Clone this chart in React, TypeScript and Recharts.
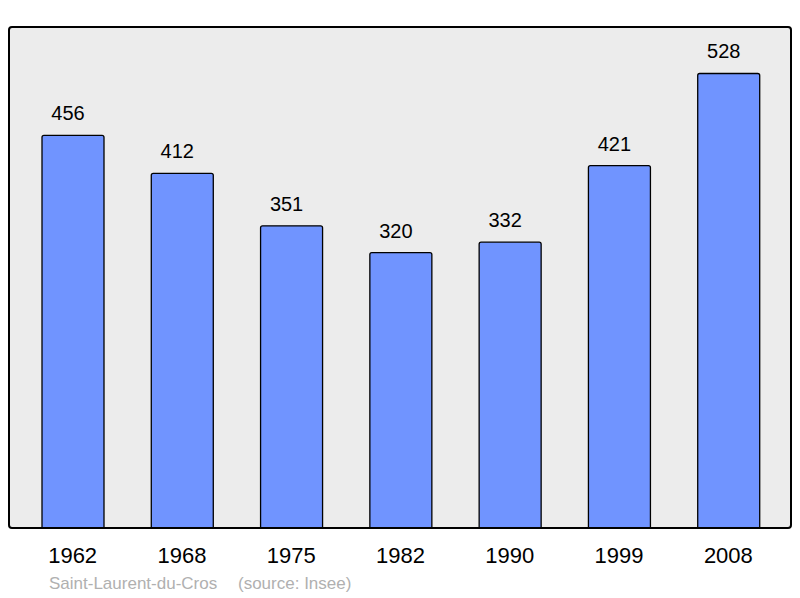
import React from 'react';
import { BarChart, Bar, XAxis, YAxis, LabelList } from 'recharts';

const years = ['1962', '1968', '1975', '1982', '1990', '1999', '2008'];
const population = [456, 412, 351, 320, 332, 421, 528];
const townName = 'Saint-Laurent-du-Cros';
const sourceText = '(source: Insee)';

const data = years.map((y, i) => ({ year: y, pop: population[i] }));

const FONT = '"Liberation Sans", Arial, sans-serif';

const ValueLabel = (props: any) => {
  const { x, y, width, value } = props;
  return (
    <text x={Number(x) + Number(width) / 2 - 5} y={Number(y) - 15} textAnchor="middle" fontSize={20} fontFamily={FONT} fill="#000">
      {value}
    </text>
  );
};

export default function App() {
  return (
    <div style={{ position: 'absolute', left: 0, top: 0, width: 800, height: 598, background: '#fff', fontFamily: FONT }}>
      <div
        style={{
          position: 'absolute', left: 8, top: 26, width: 784, height: 503,
          background: '#ececec', borderRadius: 4,
        }}
      />
      <div style={{ position: 'absolute', left: 0, top: 0 }}>
        <BarChart width={800} height={598} data={data} margin={{ top: 27, left: 9, right: 9, bottom: 40 }}>
          <YAxis hide domain={[0, 582]} />
          <XAxis
            dataKey="year"
            height={30}
            axisLine={false}
            tickLine={false}
            tickSize={0}
            tickMargin={19}
            padding={{ left: 9, right: 8 }}
            tick={{ fill: '#000', fontSize: 22, fontFamily: FONT }}
            interval={0}
          />
          <Bar dataKey="pop" fill="#7094ff" stroke="#000" strokeWidth={1.3} barSize={62} radius={[2, 2, 0, 0]} isAnimationActive={false}>
            <LabelList dataKey="pop" content={ValueLabel} />
          </Bar>
        </BarChart>
      </div>
      <div
        style={{
          position: 'absolute', left: 8, top: 26, width: 784, height: 503, boxSizing: 'border-box',
          border: '2px solid #000', borderRadius: 4, pointerEvents: 'none',
        }}
      />
      <svg width={800} height={598} style={{ position: 'absolute', left: 0, top: 0, pointerEvents: 'none' }}>
        <text x={49} y={589} fontSize={17} fill="#b0b0b0" fontFamily={FONT}>{townName}</text>
        <text x={238} y={589} fontSize={17} fill="#b0b0b0" fontFamily={FONT}>{sourceText}</text>
      </svg>
    </div>
  );
}
